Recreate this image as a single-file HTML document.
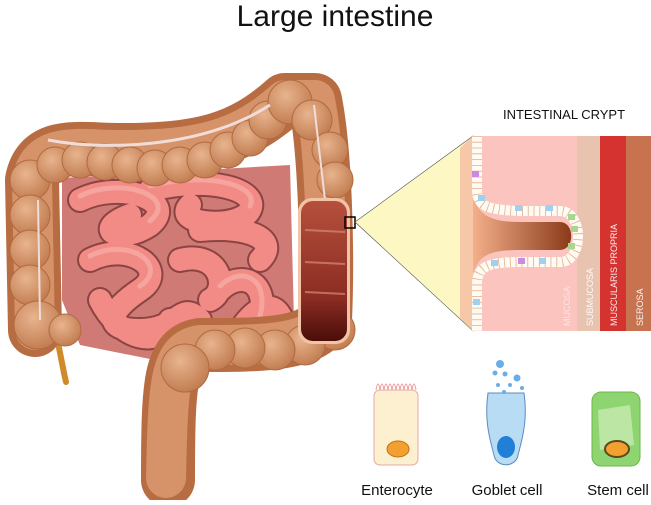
<!DOCTYPE html>
<html><head><style>
html,body{margin:0;padding:0;background:#fff;}
body{width:651px;height:500px;overflow:hidden;font-family:"Liberation Sans",sans-serif;}
</style></head><body>
<svg width="651" height="500" viewBox="0 0 651 500" xmlns="http://www.w3.org/2000/svg">
<defs>
<linearGradient id="cut" x1="0" y1="0" x2="0" y2="1"><stop offset="0" stop-color="#b5503c"/><stop offset="0.7" stop-color="#8a2c22"/><stop offset="1" stop-color="#4a0d0a"/></linearGradient>
<linearGradient id="lum" x1="0" y1="0" x2="1" y2="0"><stop offset="0" stop-color="#f3b08a"/><stop offset="1" stop-color="#8a3a18"/></linearGradient>
<radialGradient id="hb" cx="0.4" cy="0.35" r="0.7"><stop offset="0" stop-color="#e8b48e"/><stop offset="1" stop-color="#c07a4e"/></radialGradient>
</defs>
<text x="335" y="26" font-size="30" text-anchor="middle" fill="#111">Large intestine</text>
<text x="564" y="119" font-size="13" text-anchor="middle" fill="#111">INTESTINAL CRYPT</text>

<!-- small intestine -->
<path d="M62,178 L290,165 L295,360 L230,360 L180,365 L80,345 L62,300 Z" fill="#d07a76"/>
<g fill="none" stroke="#8a4442" stroke-width="26" stroke-linecap="round">
<path d="M80,200 C120,180 180,200 150,225 C120,245 90,230 130,215 M150,190 C210,175 260,190 250,210 C240,230 170,225 190,205 M200,230 C250,225 280,240 260,260 M90,260 C130,240 170,270 140,290 C110,310 100,330 140,330 C180,330 180,300 200,320 M180,260 C220,250 230,290 210,300 M220,290 C240,270 270,280 260,320 M240,330 C260,300 280,300 285,330 M100,300 C120,340 160,350 170,320"/>
</g>
<g fill="none" stroke="#f28a86" stroke-width="22" stroke-linecap="round">
<path d="M80,200 C120,180 180,200 150,225 C120,245 90,230 130,215 M150,190 C210,175 260,190 250,210 C240,230 170,225 190,205 M200,230 C250,225 280,240 260,260 M90,260 C130,240 170,270 140,290 C110,310 100,330 140,330 C180,330 180,300 200,320 M180,260 C220,250 230,290 210,300 M220,290 C240,270 270,280 260,320 M240,330 C260,300 280,300 285,330 M100,300 C120,340 160,350 170,320"/>
</g>
<g fill="none" stroke="#f8b0a8" stroke-width="5" stroke-linecap="round" opacity="0.7">
<path d="M80,196 C120,176 180,196 150,221 M150,186 C210,171 260,186 250,206 M90,256 C130,236 170,266 140,286 M220,286 C240,266 270,276 260,316"/>
</g>

<!-- appendix -->
<path d="M55,330 C60,350 62,365 66,382" stroke="#d08a2a" stroke-width="6" fill="none" stroke-linecap="round"/>
<!-- colon base -->
<g fill="none" stroke="#b86c42" stroke-linecap="round" stroke-linejoin="round">
<path stroke-width="54" d="M35,330 L32,180 C40,140 80,150 120,150 C200,150 240,140 285,100 L315,100 C325,150 328,250 325,320 C310,345 260,345 200,345 C170,350 168,380 168,480"/>
</g>
<g fill="none" stroke="#d69268" stroke-linecap="round" stroke-linejoin="round">
<path stroke-width="40" d="M35,330 L32,180 C40,140 80,150 120,150 C200,150 240,140 285,100 L315,100 C325,150 328,250 325,320 C310,345 260,345 200,345 C170,350 168,380 166,478"/>
</g>
<!-- haustra -->
<g fill="url(#hb)" stroke="#b06a40" stroke-width="1">
<circle cx="30" cy="180" r="20"/><circle cx="30" cy="215" r="20"/><circle cx="30" cy="250" r="20"/><circle cx="30" cy="285" r="20"/><circle cx="38" cy="325" r="24"/><circle cx="65" cy="330" r="16"/>
<circle cx="55" cy="165" r="18"/><circle cx="80" cy="160" r="18"/><circle cx="105" cy="162" r="18"/><circle cx="130" cy="165" r="18"/><circle cx="155" cy="168" r="18"/><circle cx="180" cy="165" r="18"/><circle cx="205" cy="160" r="18"/><circle cx="228" cy="150" r="18"/><circle cx="250" cy="138" r="18"/><circle cx="268" cy="120" r="19"/><circle cx="290" cy="102" r="22"/><circle cx="312" cy="120" r="20"/><circle cx="330" cy="150" r="18"/><circle cx="335" cy="180" r="18"/>
<circle cx="335" cy="330" r="20"/><circle cx="305" cy="345" r="20"/><circle cx="275" cy="350" r="20"/><circle cx="245" cy="348" r="20"/><circle cx="215" cy="350" r="20"/><circle cx="185" cy="368" r="24"/>
</g>
<path d="M48,140 C100,150 200,150 270,105" stroke="#f0dcd8" stroke-width="3" fill="none"/>
<path d="M38,200 L40,320" stroke="#f0dcd8" stroke-width="2" fill="none"/>
<path d="M314,105 L325,200" stroke="#f0dcd8" stroke-width="2" fill="none"/>
<!-- cut section -->
<rect x="298" y="198" width="52" height="146" rx="14" fill="#f3c3a8"/>
<rect x="301" y="201" width="46" height="140" rx="12" fill="url(#cut)"/>
<g stroke="#d98a78" stroke-width="2" opacity="0.7"><line x1="305" y1="230" x2="345" y2="232"/><line x1="305" y1="262" x2="345" y2="264"/><line x1="305" y1="292" x2="345" y2="294"/></g>
<rect x="345" y="217" width="10" height="11" fill="none" stroke="#000" stroke-width="1.5"/>

<!-- zoom wedge -->
<polygon points="355,222 473,136 473,331" fill="#fdf7c4" stroke="#555" stroke-width="0.6"/>
<polygon points="460,148 473,136 473,331 460,318" fill="#f6c8a8"/>
<!-- layers -->
<rect x="473" y="136" width="104" height="195" fill="#fbc4bf"/>
<rect x="577" y="136" width="23" height="195" fill="#e8c3b0"/>
<rect x="600" y="136" width="26" height="195" fill="#d4332f"/>
<rect x="626" y="136" width="25" height="195" fill="#c7734f"/>
<!-- crypt -->
<path d="M473,195 C478,215 490,222 520,222 L560,222 C575,222 575,250 560,250 L520,250 C490,250 478,255 473,275 Z" fill="url(#lum)"/>
<path d="M477,136 L477,190 C477,205 485,210 520,211 L560,211 C584,211 584,262 560,262 L520,262 C485,262 477,268 477,285 L477,331" fill="none" stroke="#fffaf2" stroke-width="10"/>
<path d="M477,136 L477,190 C477,205 485,210 520,211 L560,211 C584,211 584,262 560,262 L520,262 C485,262 477,268 477,285 L477,331" fill="none" stroke="#e0b090" stroke-width="10" stroke-dasharray="0.8 5" />
<rect x="472" y="171" width="7" height="6" fill="#c98ae0"/><rect x="478" y="195" width="7" height="6" fill="#9fd0f0"/><rect x="515" y="205" width="7" height="6" fill="#9fd0f0"/><rect x="546" y="205" width="7" height="6" fill="#9fd0f0"/><rect x="568" y="214" width="7" height="6" fill="#a8d890"/><rect x="571" y="226" width="7" height="6" fill="#a8d890"/><rect x="568" y="243" width="7" height="6" fill="#a8d890"/><rect x="539" y="258" width="7" height="6" fill="#9fd0f0"/><rect x="518" y="258" width="7" height="6" fill="#c98ae0"/><rect x="491" y="260" width="7" height="6" fill="#9fd0f0"/><rect x="473" y="299" width="7" height="6" fill="#9fd0f0"/>
<g fill="#fff" font-size="9" opacity="0.9">
<text transform="translate(570,326) rotate(-90)" opacity="0.6">MUCOSA</text>
<text transform="translate(593,326) rotate(-90)">SUBMUCOSA</text>
<text transform="translate(617,326) rotate(-90)">MUSCULARIS PROPRIA</text>
<text transform="translate(643,326) rotate(-90)">SEROSA</text>
</g>

<!-- enterocyte -->
<path d="M376,390 q2,-12 4,0 q2,-12 4,0 q2,-12 4,0 q2,-12 4,0 q2,-12 4,0 q2,-12 4,0 q2,-12 4,0 q2,-12 4,0 q2,-12 4,0 q2,-12 4,0" fill="none" stroke="#e89a98" stroke-width="1"/>
<rect x="374" y="390" width="44" height="75" rx="6" fill="#fdf0d0" stroke="#e8a8a0" stroke-width="1"/>
<ellipse cx="398" cy="449" rx="11" ry="8" fill="#f2a030" stroke="#c07010"/>
<!-- goblet -->
<path d="M488,393 C484,420 490,440 494,455 C496,468 516,468 518,455 C522,440 528,420 524,393 Z" fill="#b8dcf4" stroke="#5a8cc0" stroke-width="1"/>
<ellipse cx="506" cy="447" rx="9" ry="11" fill="#2080d8"/>
<g fill="#6aaee8"><circle cx="500" cy="364" r="4"/><circle cx="495" cy="373" r="2.5"/><circle cx="505" cy="374" r="2.5"/><circle cx="517" cy="378" r="3.5"/><circle cx="498" cy="385" r="2"/><circle cx="510" cy="385" r="2"/><circle cx="522" cy="388" r="2"/><circle cx="504" cy="392" r="2"/></g>
<!-- stem -->
<rect x="592" y="392" width="48" height="74" rx="9" fill="#8ed470" stroke="#6ab848"/>
<path d="M598,410 L630,405 L634,445 L600,450 Z" fill="#c8eab0" opacity="0.8"/>
<ellipse cx="617" cy="449" rx="12" ry="8" fill="#f2a030" stroke="#5a4a20" stroke-width="2"/>

<g font-size="15" fill="#111" text-anchor="middle">
<text x="397" y="495">Enterocyte</text>
<text x="507" y="495">Goblet cell</text>
<text x="618" y="495">Stem cell</text>
</g>
</svg>
</body></html>
